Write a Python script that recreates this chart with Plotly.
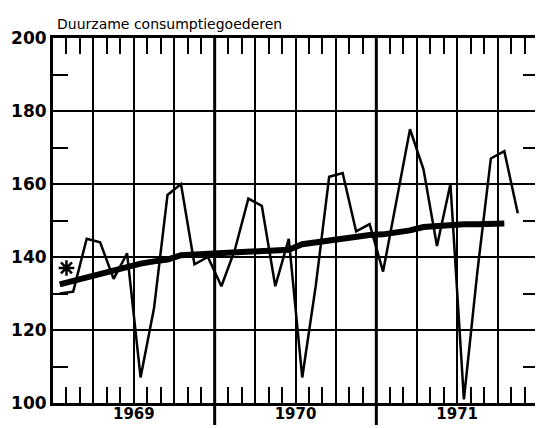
import plotly.graph_objects as go

# Months Jan 1969 .. Nov 1971 (index 0 = Jan 1969)
years = ["1969", "1970", "1971"]
month_idx = list(range(35))

# Monthly index, durable consumer goods (thin line)
values = [130, 130.5, 145, 144, 134, 141, 107, 126, 157, 160, 138, 140,
          132, 142, 156, 154, 132, 145, 107, 132, 162, 163, 147, 149,
          136, 155, 175, 164, 143, 160, 101, 136, 167, 169, 152]

# Trend (thick line), Jan 1969 .. Oct 1971
trend = [132.5, 133.5, 134.5, 135.5, 136.5, 137.5, 138.2, 138.8, 139.3, 140.5, 140.7, 140.8,
         141.0, 141.2, 141.4, 141.6, 141.8, 142.0, 143.5, 144.0, 144.8, 145.3, 145.6, 146.0,
         146.2, 146.6, 147.3, 148.2, 148.6, 148.8, 149.0, 149.0, 149.1, 149.2]

star_month = 1.0
star_value = 137

yticks = [100, 120, 140, 160, 180, 200]
yminor = [110, 130, 150, 170, 190]

x_vals = [i + 0.5 for i in month_idx]
x_trend = [i + 0.5 for i in range(len(trend))]

quarter_ticks = list(range(0, 37, 3))
quarter_text = [""] * len(quarter_ticks)
for k, yr in enumerate(years):
    quarter_text[quarter_ticks.index(6 + 12 * k)] = yr
month_minor = [m for m in range(1, 36) if m % 3 != 0]

fig = go.Figure()
fig.add_trace(go.Scatter(x=x_vals, y=values, mode="lines",
                         line=dict(color="black", width=2.5), showlegend=False,
                         hoverinfo="skip"))
fig.add_trace(go.Scatter(x=x_trend, y=trend, mode="lines",
                         line=dict(color="black", width=6), showlegend=False,
                         hoverinfo="skip"))
fig.add_trace(go.Scatter(x=[star_month], y=[star_value], mode="markers",
                         marker=dict(symbol="asterisk-open", size=13, color="black",
                                     line=dict(color="black", width=2.5)),
                         xaxis="x2", yaxis="y2", showlegend=False, hoverinfo="skip"))

fig.update_layout(
    width=535, height=420,
    margin=dict(l=45, r=5, t=30, b=25, autoexpand=False),
    paper_bgcolor="white", plot_bgcolor="white",
    xaxis=dict(range=[0, 36], tickmode="array", tickvals=quarter_ticks, ticktext=quarter_text,
               automargin=False, ticklabelstandoff=-5,
               showgrid=True, gridcolor="black", gridwidth=1.5, ticks="", zeroline=False,
               showline=True, linecolor="black", linewidth=3, mirror=True,
               tickfont=dict(family="DejaVu Sans", size=15, color="black", weight="bold"),
               minor=dict(tickmode="array", tickvals=month_minor, ticks="inside", ticklen=16,
                          tickwidth=1.5, tickcolor="black", showgrid=False)),
    xaxis2=dict(range=[0, 36], overlaying="x", side="top", showticklabels=False,
                automargin=False,
                showgrid=False, zeroline=False, ticks="",
                minor=dict(tickmode="array", tickvals=month_minor, ticks="inside", ticklen=16,
                           tickwidth=1.5, tickcolor="black", showgrid=False)),
    yaxis=dict(range=[100, 200], tickmode="array", tickvals=yticks,
               automargin=False,
               showgrid=True, gridcolor="black", gridwidth=1.5, ticks="", zeroline=False,
               showline=True, linecolor="black", linewidth=3, mirror=True,
               tickfont=dict(family="DejaVu Sans", size=17, color="black", weight="bold"),
               minor=dict(tickmode="array", tickvals=yminor, ticks="inside", ticklen=15,
                          tickwidth=1.5, tickcolor="black", showgrid=False)),
    yaxis2=dict(range=[100, 200], overlaying="y", side="right", showticklabels=False,
                automargin=False,
                showgrid=False, zeroline=False, ticks="",
                minor=dict(tickmode="array", tickvals=yminor, ticks="inside", ticklen=15,
                           tickwidth=1.5, tickcolor="black", showgrid=False)),
    shapes=[
        dict(type="line", xref="x", yref="paper", x0=12, x1=12, y0=-0.06, y1=1,
             line=dict(color="black", width=3)),
        dict(type="line", xref="x", yref="paper", x0=24, x1=24, y0=-0.06, y1=1,
             line=dict(color="black", width=3)),
    ],
    annotations=[
        dict(text="Duurzame consumptiegoederen", xref="paper", yref="paper",
             x=0.004, y=1, xanchor="left", yanchor="bottom", yshift=4, showarrow=False,
             font=dict(family="DejaVu Sans", size=14, color="black")),
    ],
)

fig.write_html("out.html")
